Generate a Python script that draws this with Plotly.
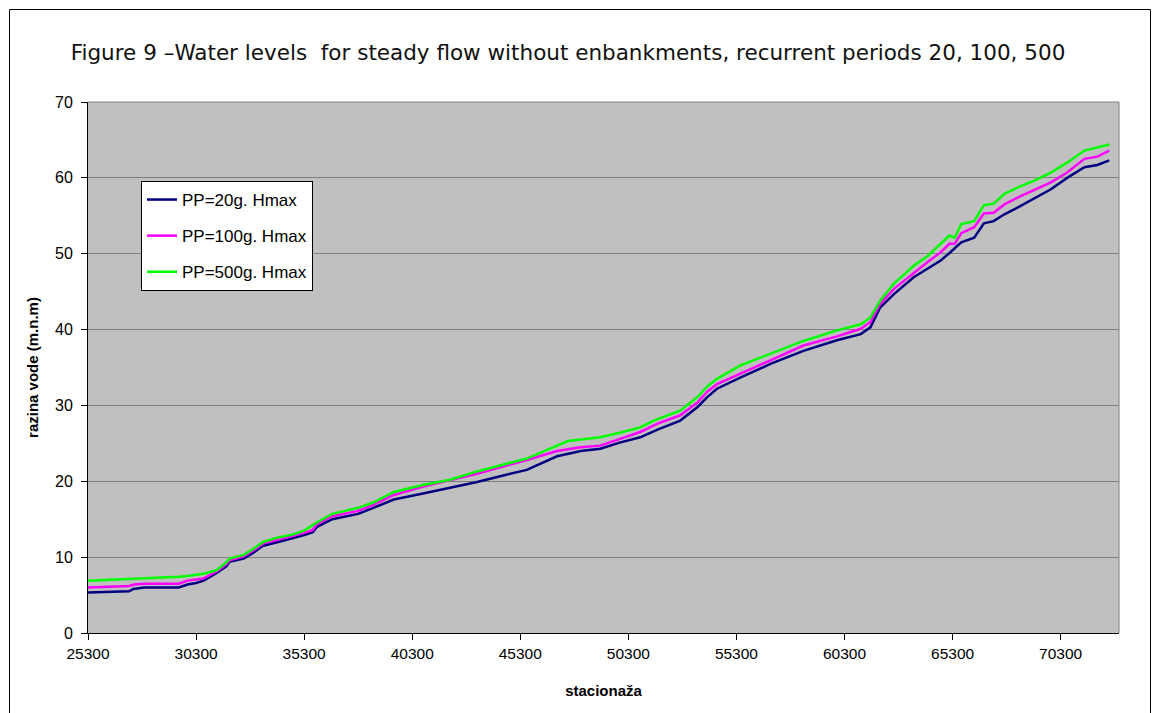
import plotly.graph_objects as go

# Stations (m) and water levels (m.n.m)
st_20 = [25300, 25900, 26300, 27200, 27400, 27900, 29500, 29900, 30300, 30650,
         31250, 31700, 31850, 32500, 32900, 33400, 34100, 34800, 35300, 35700,
         35900, 36600, 37800, 38500, 39450, 40800, 42050, 43300, 44700, 45600,
         47000, 48100, 49000, 49900, 50850, 51650, 52700, 53500, 53950, 54400,
         55500, 56900, 58400, 59950, 61050, 61500, 61950, 62600, 63500, 64150,
         64750, 65200, 65700, 66300, 66750, 67200, 67700, 68450, 69050, 69850,
         70600, 71400, 72000, 72550]
h_20 = [5.35, 5.4, 5.5, 5.5, 5.8, 6.0, 6.0, 6.4, 6.6, 6.9,
        7.9, 8.8, 9.4, 9.8, 10.5, 11.5, 12.0, 12.5, 12.9, 13.3,
        14.0, 15.0, 15.7, 16.5, 17.6, 18.4, 19.2, 19.9, 20.9, 21.5,
        23.3, 24.0, 24.3, 25.1, 25.8, 26.8, 28.0, 29.8, 31.1, 32.2,
        33.7, 35.5, 37.2, 38.6, 39.4, 40.3, 42.9, 44.7, 46.9, 48.0,
        49.1, 50.2, 51.5, 52.1, 54.0, 54.3, 55.2, 56.3, 57.2, 58.5,
        60.0, 61.4, 61.7, 62.3]

st_100 = [25300, 26300, 27200, 27450, 27900, 29500, 29900, 30650, 31250, 31700,
          31850, 32500, 32900, 33400, 34100, 34800, 35300, 35700, 35900, 36600,
          37800, 38500, 39450, 40800, 42050, 43300, 44700, 45600, 47000, 48100,
          49000, 49900, 50850, 51650, 52700, 53500, 53950, 54400, 55500, 56900,
          58400, 59950, 61050, 61500, 61950, 62600, 63500, 64150, 64750, 65150,
          65400, 65700, 66300, 66750, 67200, 67700, 68450, 69050, 69850, 70600,
          71400, 72000, 72550]
h_100 = [6.0, 6.1, 6.2, 6.4, 6.5, 6.5, 6.9, 7.2, 8.1, 9.1,
         9.6, 10.1, 10.8, 11.8, 12.3, 12.8, 13.2, 13.6, 14.4, 15.4,
         16.1, 16.9, 18.2, 19.3, 20.1, 21.0, 22.1, 22.8, 24.0, 24.5,
         24.7, 25.6, 26.5, 27.6, 28.7, 30.4, 31.8, 32.8, 34.2, 36.0,
         37.9, 39.1, 40.1, 41.0, 43.4, 45.4, 47.5, 48.9, 50.2, 51.3,
         51.3, 52.7, 53.5, 55.3, 55.4, 56.5, 57.6, 58.4, 59.4, 60.7,
         62.5, 62.8, 63.6]

st_500 = [25300, 26300, 27900, 29500, 29900, 30650, 31250, 31700, 31850, 32500,
          32900, 33400, 34100, 34800, 35300, 35700, 35900, 36600, 37800, 38500,
          39450, 40800, 42050, 43300, 44700, 45600, 47000, 47500, 48100, 49000,
          49900, 50850, 51400, 51650, 52700, 53500, 53950, 54400, 55500, 56900,
          58400, 59950, 61050, 61500, 61950, 62600, 63500, 64150, 64750, 65150,
          65400, 65700, 66300, 66750, 67200, 67700, 68450, 69050, 69850, 70600,
          71400, 72000, 72550]
h_500 = [6.9, 7.0, 7.2, 7.4, 7.5, 7.8, 8.3, 9.3, 9.8, 10.3,
         11.0, 12.0, 12.6, 13.0, 13.5, 14.2, 14.6, 15.7, 16.5, 17.2,
         18.6, 19.5, 20.2, 21.3, 22.3, 23.0, 24.7, 25.3, 25.5, 25.8,
         26.4, 27.1, 27.9, 28.2, 29.3, 31.1, 32.5, 33.5, 35.3, 36.8,
         38.5, 39.9, 40.7, 41.6, 43.8, 46.1, 48.4, 49.7, 51.3, 52.4,
         52.1, 53.9, 54.3, 56.4, 56.6, 57.9, 58.9, 59.6, 60.7, 62.0,
         63.6, 64.0, 64.4]

x_ticks = [25300, 30300, 35300, 40300, 45300, 50300, 55300, 60300, 65300, 70300]
y_ticks = [0, 10, 20, 30, 40, 50, 60, 70]

series = [
    ("PP=20g. Hmax", st_20, h_20, "#000080"),
    ("PP=100g. Hmax", st_100, h_100, "#FF00FF"),
    ("PP=500g. Hmax", st_500, h_500, "#00FF00"),
]

fig = go.Figure()
for i, (name, xs, ys, col) in enumerate(series):
    fig.add_trace(go.Scatter(x=xs, y=ys, mode="lines", name=name,
                             legendgroup=str(i),
                             line=dict(color=col, width=2.5)))

W, H = 1154, 713
ml, mr, mt, mb = 88, 35, 102, 80
pw, ph = W - ml - mr, H - mt - mb

def px_x(p):
    return (p - ml) / pw

def px_y(p):
    return (H - mb - p) / ph

fig.update_layout(
    width=W, height=H,
    margin=dict(l=ml, r=mr, t=mt, b=mb, pad=0),
    paper_bgcolor="white",
    plot_bgcolor="#C0C0C0",
    font=dict(family="Liberation Sans, Arial", size=15, color="black"),
    title=dict(text="Figure 9 \u2013Water levels\u00a0 for steady flow without enbankments, recurrent periods 20, 100, 500",
               font=dict(family="DejaVu Sans, Verdana", size=21.5, color="#111111"),
               x=568 / W, xanchor="center", xref="container",
               y=1 - 52 / H, yanchor="middle"),
    showlegend=True,
    legend=dict(x=px_x(141), y=px_y(181), xanchor="left", yanchor="top",
                bgcolor="white", bordercolor="black", borderwidth=1,
                font=dict(family="Liberation Sans, Arial", size=17),
                tracegroupgap=11, traceorder="grouped"),
    xaxis=dict(range=[25300, 73000], tickmode="array", tickvals=x_ticks,
               ticktext=[str(v) for v in x_ticks],
               showgrid=False, zeroline=False,
               showline=True, linecolor="black", linewidth=1,
               ticks="outside", ticklen=6, tickcolor="black",
               tickfont=dict(size=15.5),
               title=dict(text="<b>stacionaža</b>", standoff=24,
                          font=dict(size=15))),
    yaxis=dict(range=[0, 70], tickmode="array", tickvals=y_ticks,
               showgrid=True, gridcolor="#808080", gridwidth=1,
               zeroline=False,
               showline=True, linecolor="black", linewidth=1,
               ticks="outside", ticklen=6, tickcolor="black",
               tickfont=dict(size=16), ticklabelstandoff=5,
               title=dict(text="<b>razina vode (m.n.m)</b>", standoff=12,
                          font=dict(size=15))),
    shapes=[
        # plot area border (top and right, grey)
        dict(type="line", xref="paper", yref="paper", x0=0, x1=1, y0=1, y1=1,
             line=dict(color="#808080", width=1), layer="above"),
        dict(type="line", xref="paper", yref="paper", x0=1, x1=1, y0=0, y1=1,
             line=dict(color="#808080", width=1), layer="above"),
        # outer chart frame
        dict(type="rect", xref="paper", yref="paper",
             x0=px_x(9.5), x1=px_x(1150.5), y0=px_y(730), y1=px_y(9.5),
             line=dict(color="black", width=1), fillcolor="rgba(0,0,0,0)",
             layer="below"),
    ],
)

fig.write_html("out.html")
